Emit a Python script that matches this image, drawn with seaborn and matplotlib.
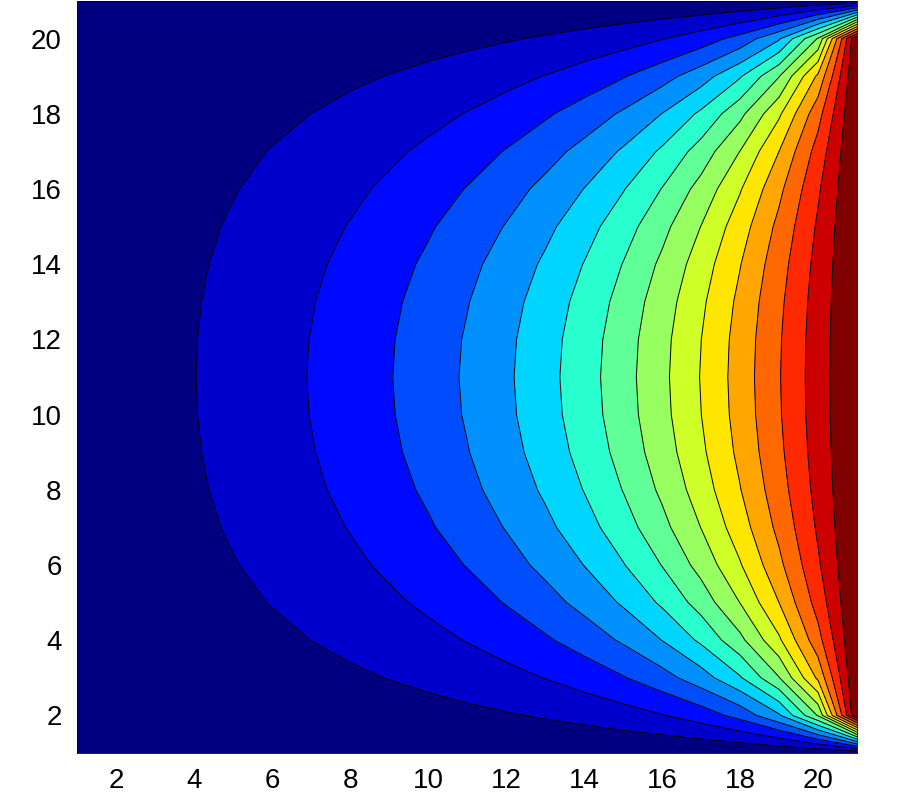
import numpy as np
import matplotlib
matplotlib.use("Agg")
import matplotlib.pyplot as plt
import seaborn as sns

# grid 21 x 21, potencial fijado en los bordes
n = 21
borde_izq = [0.0] * n
borde_sup = [0.0] * n
borde_inf = [0.0] * n
borde_der = [0.0] + [1.0] * (n - 2) + [0.0]

# 15 lineas de contorno -> 16 bandas (niveles estimados de la figura)
niveles = [0.0, 0.055, 0.117, 0.18, 0.242, 0.305, 0.367, 0.43, 0.492,
           0.555, 0.617, 0.68, 0.742, 0.805, 0.867, 0.93, 1.0]
ticks = [2, 4, 6, 8, 10, 12, 14, 16, 18, 20]

# campo: relajacion de Laplace con los bordes de arriba
u = np.zeros((n, n))  # u[fila=y, col=x]
u[:, 0] = borde_izq
u[:, -1] = borde_der
u[0, :] = borde_inf
u[-1, :] = borde_sup
for _ in range(6000):
    u[1:-1, 1:-1] = 0.25 * (u[2:, 1:-1] + u[:-2, 1:-1] + u[1:-1, 2:] + u[1:-1, :-2])

x = np.arange(1, n + 1)
y = np.arange(1, n + 1)
X, Y = np.meshgrid(x, y)

sns.set_theme(style="white")
plt.rcParams['font.family'] = ['Liberation Sans', 'DejaVu Sans']

fig = plt.figure(figsize=(9, 8), dpi=100)
ax = fig.add_axes([77 / 900, 47 / 800, 780 / 900, 752 / 800])

cmap = plt.get_cmap('jet', 16)
ax.contourf(X, Y, u, levels=niveles, cmap=cmap)
ax.contour(X, Y, u, levels=niveles[1:-1], colors='black', linewidths=0.7)

ax.set_xlim(1, 21)
ax.set_ylim(1, 21)
ax.set_xticks(ticks)
ax.set_yticks(ticks)
ax.tick_params(direction='in', length=5, width=0.6, colors='black', labelsize=20, pad=11)
for s in ax.spines.values():
    s.set_color('black')
    s.set_linewidth(0.6)

fig.savefig('out.png', dpi=100)
